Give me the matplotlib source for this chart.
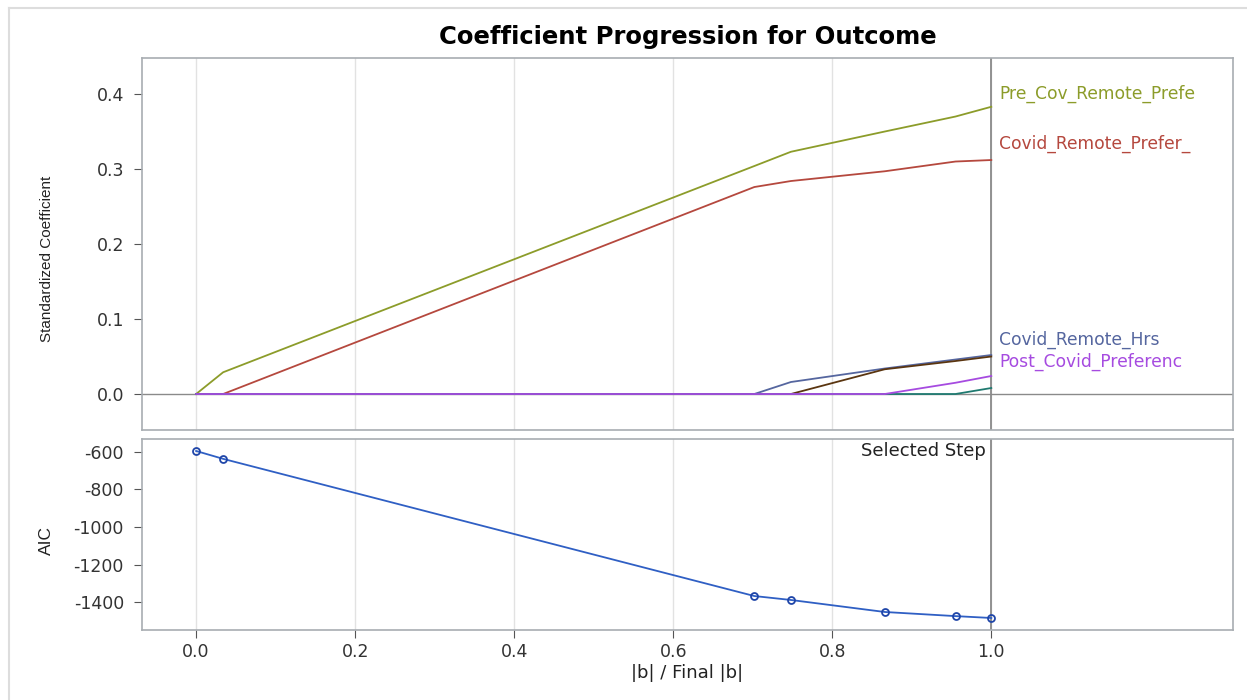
import matplotlib.pyplot as plt
from matplotlib.lines import Line2D

plt.rcParams['font.family'] = ['DejaVu Sans']
plt.rcParams['axes.unicode_minus'] = False

# steps of the selection, as fraction |b| / final |b|
steps = [0.0, 0.034, 0.702, 0.748, 0.866, 0.955, 1.0]

pre_cov_remote = [0.0, 0.029, 0.304, 0.323, 0.350, 0.370, 0.383]
covid_remote_prefer = [0.0, 0.0, 0.276, 0.284, 0.297, 0.310, 0.312]
covid_remote_hrs = [0.0, 0.0, 0.0, 0.016, 0.034, 0.046, 0.052]
brown_effect = [0.0, 0.0, 0.0, 0.0, 0.033, 0.044, 0.050]
post_covid_pref = [0.0, 0.0, 0.0, 0.0, 0.0, 0.015, 0.024]
teal_effect = [0.0, 0.0, 0.0, 0.0, 0.0, 0.0, 0.008]

aic = [-595, -637, -1368, -1389, -1453, -1475, -1485]

series = [
    ('Pre_Cov_Remote_Prefe', pre_cov_remote, '#8C9C2A', 0.400),
    ('Covid_Remote_Prefer_', covid_remote_prefer, '#B5483E', 0.333),
    ('Covid_Remote_Hrs', covid_remote_hrs, '#55669F', 0.072),
    (None, brown_effect, '#5A3510', None),
    (None, teal_effect, '#1F7A70', None),
    ('Post_Covid_Preferenc', post_covid_pref, '#A64BE0', 0.043),
]

fig = plt.figure(figsize=(12.47, 7.0), dpi=100)
ax1 = fig.add_axes([0.1139, 0.3857, 0.8749, 0.5314])
ax2 = fig.add_axes([0.1139, 0.1, 0.8749, 0.2729])

frame_col = '#A8ADB2'
for ax in (ax1, ax2):
    ax.set_xlim(-0.068, 1.304)
    for x in [0.0, 0.2, 0.4, 0.6, 0.8, 1.0]:
        ax.axvline(x, color='#E2E2E2', lw=1, zorder=0)
    for s in ax.spines.values():
        s.set_color(frame_col)
        s.set_linewidth(1.2)
    ax.tick_params(colors='#555555', labelcolor='#333333', labelsize=12.5, length=6)
    ax.tick_params(axis='y', pad=7)
    ax.axvline(1.0, color='#8A8A8A', lw=1.3, zorder=1)

ax1.set_ylim(-0.048, 0.448)
ax1.set_yticks([0.0, 0.1, 0.2, 0.3, 0.4])
ax1.set_yticklabels(['0.0', '0.1', '0.2', '0.3', '0.4'])
ax1.set_xticks([])
ax1.axhline(0, color='#8A8A8A', lw=1, zorder=1)

for name, vals, col, ylab in series:
    ax1.plot(steps, vals, color=col, lw=1.3, zorder=3)
    if name:
        ax1.text(1.01, ylab, name, color=col, fontsize=12.3, va='center', ha='left')

ax1.set_ylabel('Standardized Coefficient', fontsize=11, family='Liberation Sans', color='#222222')
ax1.yaxis.set_label_coords(-0.081, 0.46)
ax1.set_title('Coefficient Progression for Outcome', fontsize=17.5, fontweight='bold', pad=10)

ax2.set_ylim(-1549, -531)
ax2.set_yticks([-600, -800, -1000, -1200, -1400])
ax2.set_xticks([0.0, 0.2, 0.4, 0.6, 0.8, 1.0])
ax2.set_xticklabels(['0.0', '0.2', '0.4', '0.6', '0.8', '1.0'])
ax2.plot(steps, aic, color='#2F5FC4', lw=1.3, marker='o', markersize=5,
         markerfacecolor='none', markeredgecolor='#1F45A8', markeredgewidth=1.3, zorder=3)
ax2.text(0.993, -595, 'Selected Step', ha='right', va='center', fontsize=13, color='#222222')
ax2.set_ylabel('AIC', fontsize=12.5, family='Liberation Sans', color='#222222')
ax2.yaxis.set_label_coords(-0.081, 0.47)
ax2.set_xlabel('|b| / Final |b|', fontsize=13, color='#222222', labelpad=2)

# light outer frame
fig.add_artist(Line2D([9 / 1247, 9 / 1247], [0, 1 - 8 / 700], color='#DDDDDD', lw=1.5))
fig.add_artist(Line2D([9 / 1247, 1], [1 - 8 / 700, 1 - 8 / 700], color='#DDDDDD', lw=1.5))

fig.savefig('out.png', dpi=100)
